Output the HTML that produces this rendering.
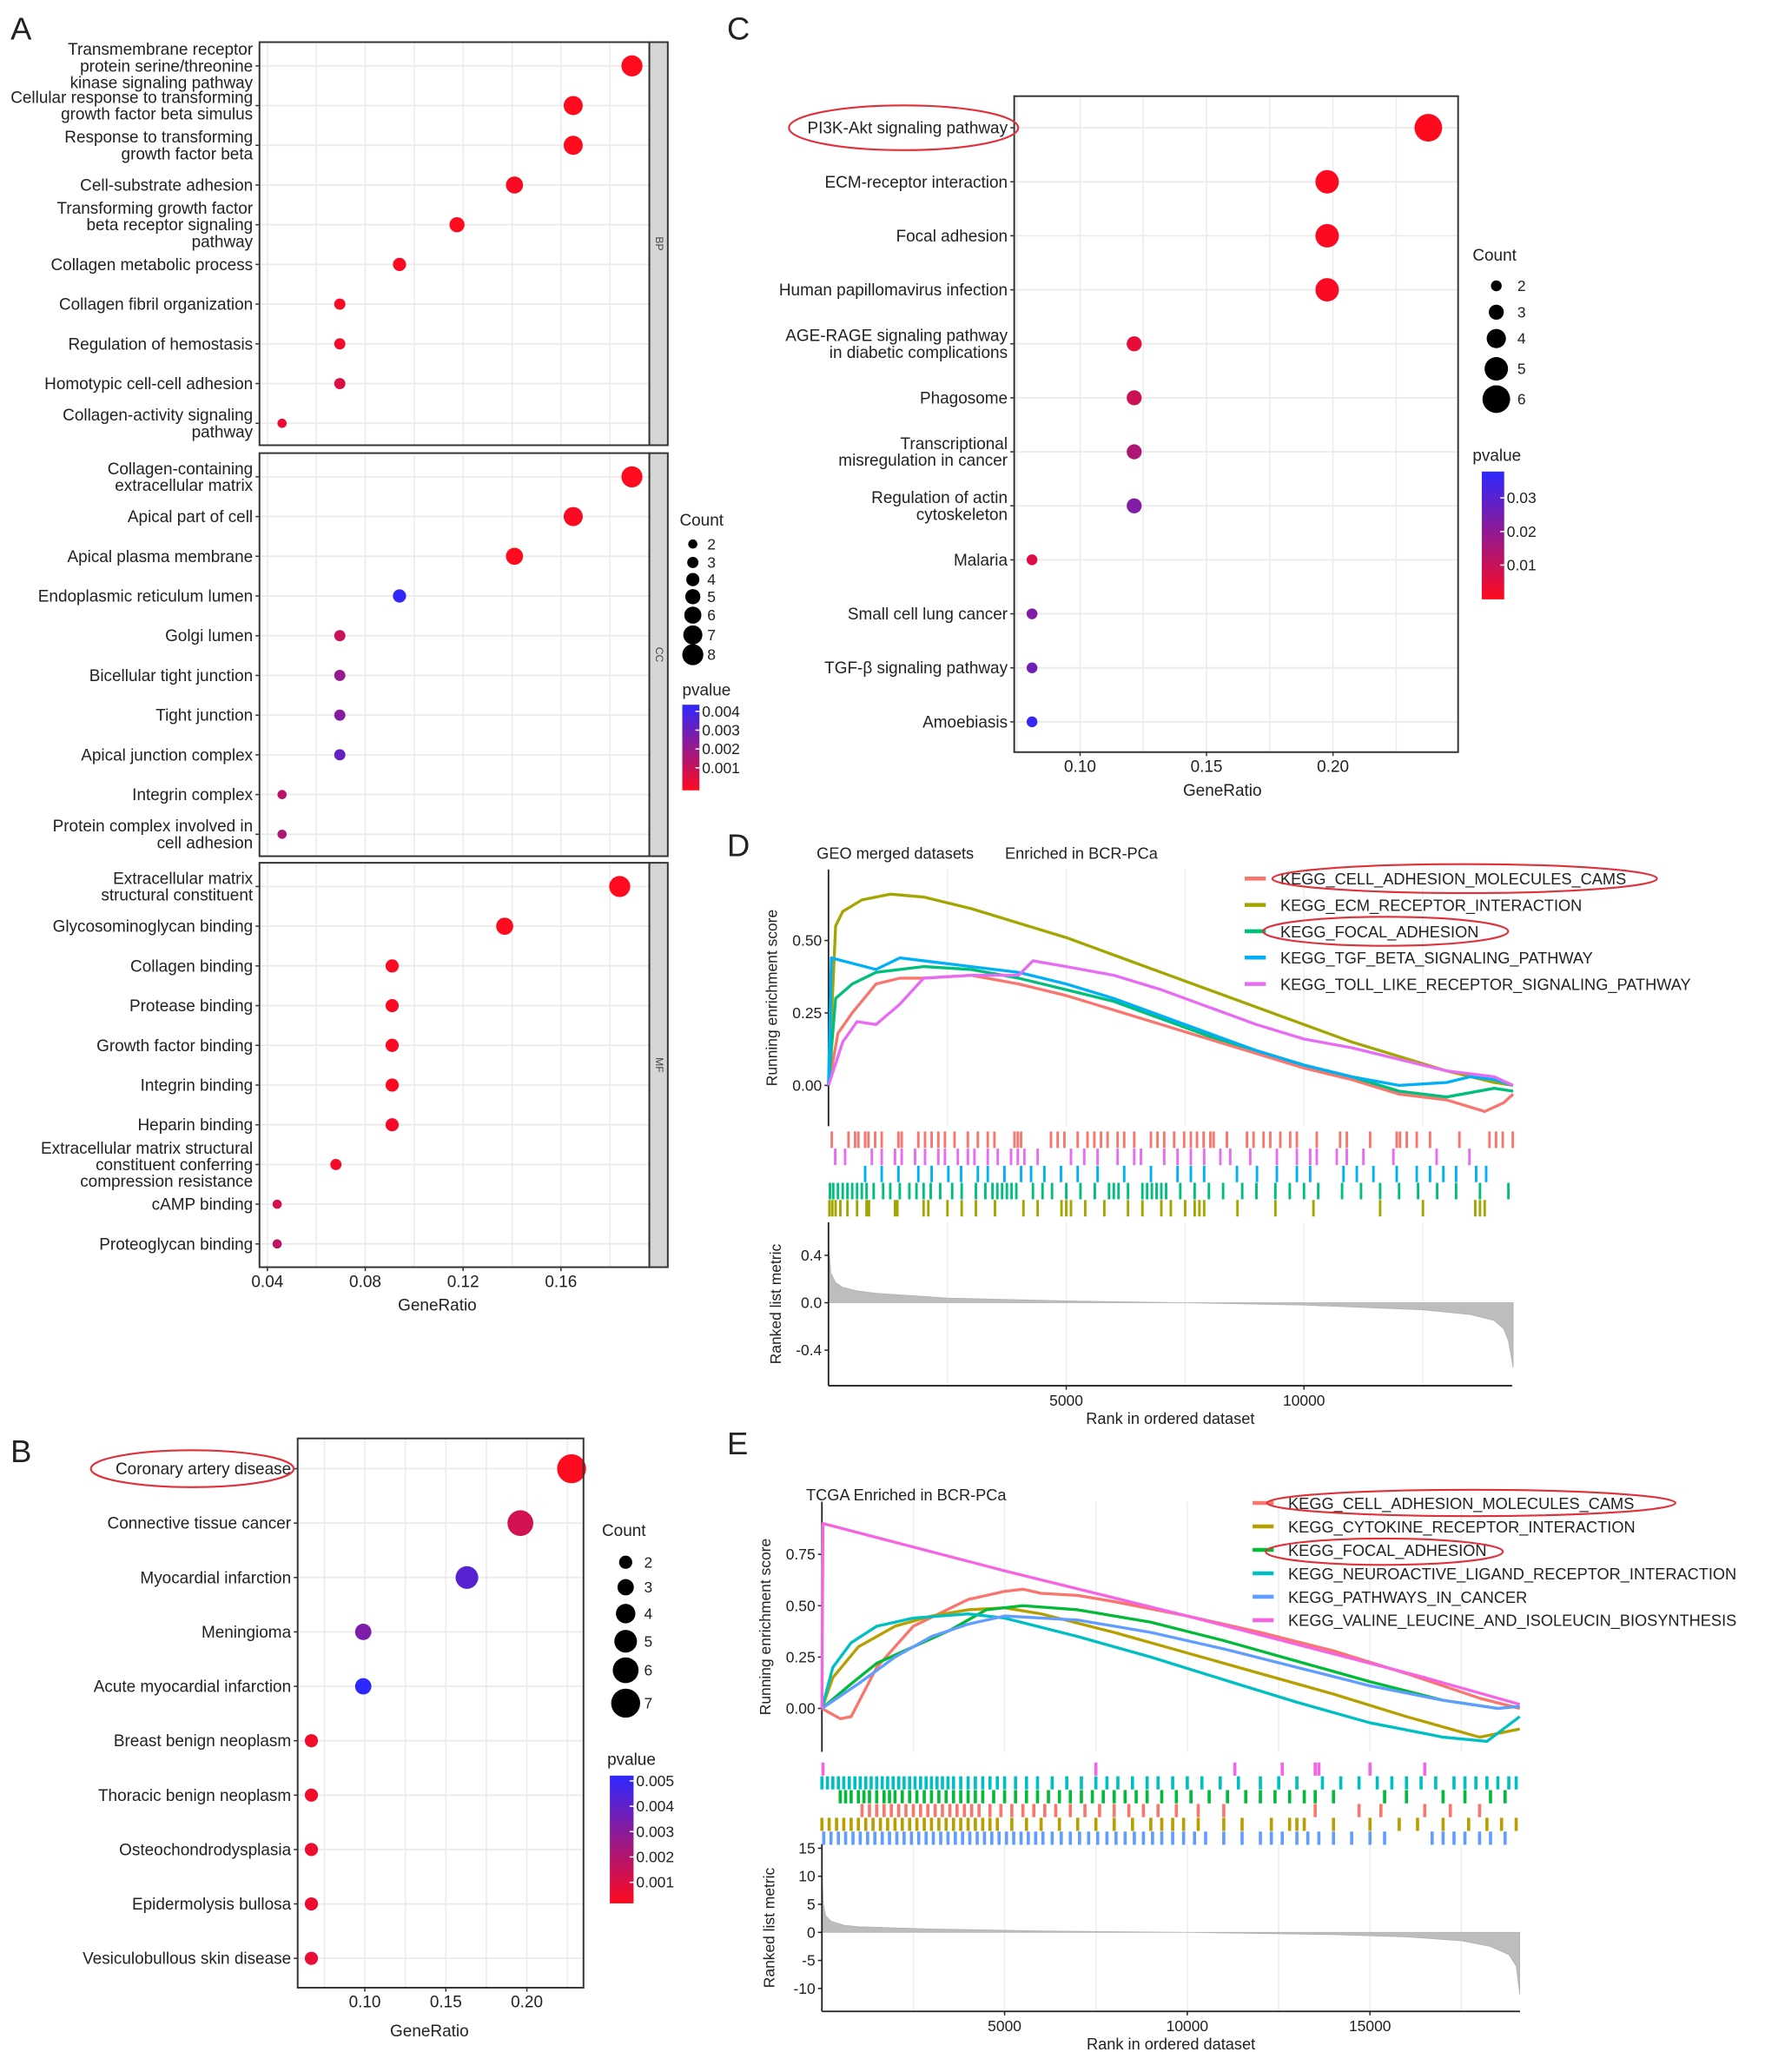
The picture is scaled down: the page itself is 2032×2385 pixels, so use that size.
<!DOCTYPE html>
<html><head><meta charset="utf-8">
<style>
html,body{margin:0;padding:0;background:#fff}
svg{display:block}
text{font-family:"Liberation Sans",sans-serif}
</style></head>
<body>
<svg id="fig" xmlns="http://www.w3.org/2000/svg" width="2032" height="2385" viewBox="0 0 1340 1573" preserveAspectRatio="none"></svg>
<script>
// ===== Panel A data =====
const aBPLabels=[["Transmembrane receptor","protein serine/threonine","kinase signaling pathway"],["Cellular response to transforming","growth factor beta simulus"],["Response to transforming","growth factor beta"],["Cell-substrate adhesion"],["Transforming growth factor","beta receptor signaling","pathway"],["Collagen metabolic process"],["Collagen fibril organization"],["Regulation of hemostasis"],["Homotypic cell-cell adhesion"],["Collagen-activity signaling","pathway"]];
const aBPRatio=[0.189,0.165,0.165,0.141,0.1175,0.094,0.0696,0.0696,0.0696,0.046];
const aBPCount=[8,7,7,6,5,4,3,3,3,2];
const aBPP=[0.0001,0.0001,0.0001,0.0002,0.0001,0.0002,0.0002,0.0003,0.0008,0.0005];
const aCCLabels=[["Collagen-containing","extracellular matrix"],["Apical part of cell"],["Apical plasma membrane"],["Endoplasmic reticulum lumen"],["Golgi lumen"],["Bicellular tight junction"],["Tight junction"],["Apical junction complex"],["Integrin complex"],["Protein complex involved in","cell adhesion"]];
const aCCRatio=[0.189,0.165,0.141,0.094,0.0696,0.0696,0.0696,0.0696,0.046,0.046];
const aCCCount=[8,7,6,4,3,3,3,3,2,2];
const aCCP=[0.0001,0.0002,0.0001,0.0042,0.0012,0.0022,0.0025,0.0032,0.0015,0.0017];
const aMFLabels=[["Extracellular matrix","structural constituent"],["Glycosominoglycan binding"],["Collagen binding"],["Protease binding"],["Growth factor binding"],["Integrin binding"],["Heparin binding"],["Extracellular matrix structural","constituent conferring","compression resistance"],["cAMP binding"],["Proteoglycan binding"]];
const aMFRatio=[0.184,0.137,0.091,0.091,0.091,0.091,0.091,0.068,0.044,0.044];
const aMFCount=[8,6,4,4,4,4,4,3,2,2];
const aMFP=[0.0001,0.0001,0.0002,0.0002,0.0002,0.0002,0.0003,0.0003,0.0009,0.0014];
const aXTicks=[0.04,0.08,0.12,0.16];
const aCountLegend=[2,3,4,5,6,7,8];
const aPLegend=[0.004,0.003,0.002,0.001];
// ===== Panel B data =====
const bLabels=[["Coronary artery disease"],["Connective tissue cancer"],["Myocardial infarction"],["Meningioma"],["Acute myocardial infarction"],["Breast benign neoplasm"],["Thoracic benign neoplasm"],["Osteochondrodysplasia"],["Epidermolysis bullosa"],["Vesiculobullous skin disease"]];
const bRatio=[0.2276,0.196,0.163,0.099,0.099,0.067,0.067,0.067,0.067,0.067];
const bCount=[7,6,5,3,3,2,2,2,2,2];
const bP=[0.0001,0.0013,0.0042,0.0033,0.0052,0.0005,0.0005,0.0006,0.0006,0.0007];
const bXTicks=[0.10,0.15,0.20];
const bCountLegend=[2,3,4,5,6,7];
const bPLegend=[0.005,0.004,0.003,0.002,0.001];
// ===== Panel C data =====
const cLabels=[["PI3K-Akt signaling pathway"],["ECM-receptor interaction"],["Focal adhesion"],["Human papillomavirus infection"],["AGE-RAGE signaling pathway","in diabetic complications"],["Phagosome"],["Transcriptional","misregulation in cancer"],["Regulation of actin","cytoskeleton"],["Malaria"],["Small cell lung cancer"],["TGF-β signaling pathway"],["Amoebiasis"]];
const cRatio=[0.2377,0.1977,0.1977,0.1977,0.1214,0.1214,0.1214,0.1214,0.081,0.081,0.081,0.081];
const cCount=[6,5,5,5,3,3,3,3,2,2,2,2];
const cP=[0.0008,0.001,0.0012,0.0015,0.005,0.01,0.015,0.023,0.007,0.023,0.026,0.036];
const cXTicks=[0.10,0.15,0.20];
const cCountLegend=[2,3,4,5,6];
const cPLegend=[0.03,0.02,0.01];
// ===== Panel D data =====
const dNames=["KEGG_CELL_ADHESION_MOLECULES_CAMS","KEGG_ECM_RECEPTOR_INTERACTION","KEGG_FOCAL_ADHESION","KEGG_TGF_BETA_SIGNALING_PATHWAY","KEGG_TOLL_LIKE_RECEPTOR_SIGNALING_PATHWAY"];
const dColors=["#F8766D","#A3A500","#00BF7D","#00B0F6","#E76BF3"];
const dCamsRank=[0,200,500,1000,1500,2000,3000,4000,5000,6000,7000,8000,9000,10000,11000,12000,13000,13800,14200,14400];
const dCamsES=[0,0.18,0.25,0.35,0.37,0.37,0.38,0.35,0.31,0.26,0.21,0.16,0.11,0.06,0.02,-0.03,-0.05,-0.09,-0.06,-0.03];
const dEcmRank=[0,150,300,700,1300,2000,3000,4000,5000,6000,7000,8000,9000,10000,11000,12000,13000,14000,14400];
const dEcmES=[0,0.55,0.6,0.64,0.66,0.65,0.61,0.56,0.51,0.45,0.39,0.33,0.27,0.21,0.15,0.1,0.05,0.01,0];
const dFocalRank=[0,150,500,1000,2000,3000,4000,5000,6000,7000,8000,9000,10000,11000,12000,13000,14000,14400];
const dFocalES=[0,0.3,0.35,0.39,0.41,0.4,0.37,0.33,0.29,0.23,0.17,0.12,0.07,0.03,-0.02,-0.04,-0.01,-0.02];
const dTgfRank=[0,60,1000,1500,2000,3000,4000,5000,6000,7000,8000,9000,10000,11000,12000,13000,13500,14000,14400];
const dTgfES=[0,0.44,0.4,0.44,0.43,0.41,0.39,0.35,0.3,0.24,0.18,0.12,0.07,0.03,0.0,0.01,0.03,0.02,0];
const dTollRank=[0,300,600,1000,1500,2000,3000,4000,4300,5000,6000,7000,8000,9000,10000,11000,12000,13000,13500,14000,14400];
const dTollES=[0,0.15,0.22,0.21,0.28,0.37,0.38,0.38,0.43,0.41,0.38,0.33,0.27,0.21,0.16,0.13,0.09,0.05,0.04,0.03,0];
const dHitsCams=[70,420,560,630,770,840,980,1120,1470,1540,1890,2030,2170,2310,2450,2650,2930,3140,3350,3490,3910,3980,4050,4680,4820,4960,5240,5450,5590,5730,5870,6080,6220,6430,6780,6920,7060,7270,7480,7620,7750,7890,8030,8100,8380,8800,8940,9150,9290,9500,9710,9850,10270,10760,10900,11390,11950,12020,12160,12370,12650,13270,13900,14040,14180,14390];
const dHitsToll=[140,350,910,1120,1400,1540,1820,2030,2310,2450,2720,2930,3070,3350,3560,3840,3980,4120,4400,5100,5380,5660,6080,6430,6570,7060,7340,7620,7900,8240,8450,8870,9430,9850,10130,10270,10690,10900,11250,11880,12790,13480];
const dHitsTgf=[770,1120,1470,1890,2170,2520,2790,3140,3350,3700,4050,4260,4540,4890,5240,5660,6220,6780,7340,7620,7900,8590,9010,9430,9850,10130,10830,11110,11460,11950,12370,12650,12930,13200,13620,13830];
const dHitsFocal=[30,100,200,300,400,500,600,700,800,950,1150,1300,1500,1700,1850,2000,2150,2350,2600,2800,3100,3300,3450,3550,3650,3750,3850,3950,4300,4500,4700,5000,5300,5600,5900,6000,6100,6300,6600,6700,6800,6900,7000,7100,7400,7700,8000,8300,8700,9000,9400,9700,10000,10300,10800,11200,11600,12000,12400,12800,13200,13700,14300];
const dHitsEcm=[20,80,150,250,400,600,800,850,1400,1450,2000,2100,2500,2800,3100,3500,4100,4400,4900,5000,5100,5400,5800,6300,6600,7000,7200,7500,7700,7800,7900,8600,9400,10200,11600,12500,13600,13700,13800];
const dMetricRank=[0,50,150,300,600,1000,2500,5000,7500,10000,12500,13500,14000,14200,14300,14400];
const dMetricVal=[0.5,0.25,0.17,0.13,0.1,0.08,0.04,0.015,0,-0.02,-0.06,-0.1,-0.15,-0.22,-0.32,-0.55];
const dXTicks=[5000,10000];
const dYTicks=[0,0.25,0.5];
const dMTicks=[0.4,0.0,-0.4];
// ===== Panel E data =====
const eNames=["KEGG_CELL_ADHESION_MOLECULES_CAMS","KEGG_CYTOKINE_RECEPTOR_INTERACTION","KEGG_FOCAL_ADHESION","KEGG_NEUROACTIVE_LIGAND_RECEPTOR_INTERACTION","KEGG_PATHWAYS_IN_CANCER","KEGG_VALINE_LEUCINE_AND_ISOLEUCIN_BIOSYNTHESIS"];
const eColors=["#F8766D","#B79F00","#00BA38","#00BFC4","#619CFF","#F564E3"];
const eCamsRank=[0,500,800,1500,2500,4000,5000,5500,6000,7000,8000,10000,12000,14000,16000,18000,19100];
const eCamsES=[0,-0.05,-0.04,0.2,0.4,0.53,0.57,0.58,0.56,0.55,0.52,0.45,0.37,0.28,0.17,0.05,0.0];
const eCytoRank=[0,300,1000,2000,3000,4000,5000,6000,8000,10000,12000,14000,16000,18000,19100];
const eCytoES=[0,0.15,0.3,0.4,0.45,0.48,0.49,0.46,0.37,0.27,0.17,0.07,-0.04,-0.14,-0.1];
const eFocalRank=[0,800,1500,2500,3500,4500,5500,7000,9000,11000,13000,15000,17000,18500,19100];
const eFocalES=[0,0.12,0.22,0.3,0.38,0.48,0.5,0.48,0.42,0.33,0.23,0.13,0.04,0.0,0.01];
const eNeuroRank=[0,300,800,1500,2500,4000,5000,7000,9000,11000,13000,15000,17000,18200,19100];
const eNeuroES=[0,0.2,0.32,0.4,0.44,0.46,0.44,0.35,0.25,0.14,0.03,-0.07,-0.14,-0.16,-0.04];
const ePathRank=[0,1000,2000,3000,4000,5000,7000,9000,11000,13000,15000,17000,18500,19100];
const ePathES=[0,0.12,0.25,0.35,0.41,0.45,0.43,0.37,0.29,0.2,0.11,0.04,0.0,0.01];
const eValRank=[0,30,5000,10000,15000,16500,19100];
const eValES=[0,0.9,0.67,0.45,0.22,0.15,0.02];
const eHitsVal=[30,7500,11300,12600,13500,13600,15000,16500];
const eHitsNeuro=[0,150,300,450,600,750,900,1050,1200,1350,1500,1650,1800,1950,2100,2250,2400,2550,2700,2850,3000,3150,3300,3450,3600,3800,4000,4200,4400,4600,4800,5000,5300,5600,5900,6300,6700,7100,7500,7800,8100,8500,8900,9200,9600,10000,10400,10900,11400,12000,12500,13000,13700,14200,14700,15200,15600,16000,16400,16800,17300,17600,17900,18200,18500,18800,19000];
const eHitsFocal=[500,650,800,1000,1150,1300,1500,1700,1850,2000,2200,2400,2600,2800,3000,3200,3400,3600,3800,4000,4200,4400,4700,5000,5300,5600,5900,6200,6500,6800,7100,7400,7700,8000,8300,8600,8900,9300,9700,10100,10600,11100,11600,12000,12400,12800,13200,13500,14000,15400,16000,17000,17600,18300,18700];
const eHitsCams=[1100,1300,1500,1700,1900,2100,2300,2500,2700,2900,3100,3300,3500,3700,3900,4100,4300,4600,4900,5200,5500,5800,6100,6400,6800,7200,7600,8000,8400,8800,9200,9700,10300,11000,13500,14700,15300,16500,17200,18000];
const eHitsCyto=[0,200,400,600,800,1000,1200,1400,1600,1800,2000,2200,2400,2600,2800,3000,3200,3400,3600,3800,4000,4200,4400,4600,4800,5200,5600,6000,6500,7000,7500,8000,8500,9000,9300,9600,9900,10300,11000,11500,12300,12800,13000,13200,14000,15000,15800,16300,17000,17700,18200,18600,19000];
const eHitsPath=[50,250,450,650,850,1050,1250,1450,1650,1850,2050,2250,2450,2650,2850,3050,3250,3450,3650,3850,4050,4250,4450,4650,4850,5050,5250,5450,5650,5850,6050,6300,6550,6800,7050,7300,7550,7800,8050,8300,8550,8800,9050,9300,9600,9900,10200,10500,11000,11500,12000,12300,12600,13000,13300,13600,14000,14500,15000,15400,16700,17000,17300,17600,18000,18300,18700];
const eMetricRank=[0,15,40,100,250,600,1000,3000,6000,10000,14000,16000,17500,18300,18800,19000,19100];
const eMetricVal=[14,9,5,3,2,1.3,1,0.6,0.25,0,-0.4,-0.8,-1.5,-2.5,-4,-6,-11];
const eXTicks=[5000,10000,15000];
const eYTicks=[0,0.25,0.5,0.75];
const eMTicks=[15,10,5,0,-5,-10];

// ===== helpers =====
const NS='http://www.w3.org/2000/svg';
const svg=document.getElementById('fig');
function mk(tag,attrs,name,parent){
  const el=document.createElementNS(NS,tag);
  for(const k in attrs) el.setAttribute(k,attrs[k]);
  
  
  (parent||svg).appendChild(el);
  return el;
}
function tx(x,y,s,name,o){
  o=o||{};
  const a={x:x,y:y,'font-size':o.size||12.5,'text-anchor':o.anchor||'start',fill:o.fill||'#222'};
  if(o.rot) a.transform='rotate('+o.rot+' '+x+' '+y+')';
  const el=mk('text',a,name,o.parent);
  el.textContent=s;
  return el;
}
function pcol(p,pmin,pmax){
  let t=(p-pmin)/(pmax-pmin); t=Math.max(0,Math.min(1,t));
  const r=Math.round(255*(1-t)+45*t), g=Math.round(10*(1-t)+40*t), b=Math.round(30*(1-t)+255*t);
  return 'rgb('+r+','+g+','+b+')';
}
function gradient(id,parent){
  const defs=mk('defs',{},'gradient-defs',parent);
  const lg=mk('linearGradient',{id:id,x1:0,y1:0,x2:0,y2:1},'pvalue-gradient',defs);
  mk('stop',{offset:'0','stop-color':'rgb(45,40,255)'},'gradient-stop-high',lg);
  mk('stop',{offset:'0.5','stop-color':'rgb(150,25,140)'},'gradient-stop-mid',lg);
  mk('stop',{offset:'1','stop-color':'rgb(255,10,30)'},'gradient-stop-low',lg);
}
gradient('pgrad');

// ===== dot plot =====
function dotPanel(o){
  const g=mk('g',{},o.name);
  mk('rect',{x:o.x0,y:o.y0,width:o.x1-o.x0,height:o.y1-o.y0,fill:'#fff'},'plot-background',g);
  o.grid.forEach(v=>{const x=o.xs(v); mk('line',{x1:x,x2:x,y1:o.y0,y2:o.y1,stroke:'#ebebeb','stroke-width':1},'grid-x',g);});
  o.labels.forEach((lab,i)=>{
    const y=o.rowY0+i*o.rowStep;
    mk('line',{x1:o.x0,x2:o.x1,y1:y,y2:y,stroke:'#ebebeb','stroke-width':1.2},'grid-y',g);
    mk('line',{x1:o.x0-3,x2:o.x0,y1:y,y2:y,stroke:'#333','stroke-width':1},'y-tick',g);
    const n=lab.length, lh=12.6;
    lab.forEach((s,k)=>{tx(o.x0-5,y+4.3+(k-(n-1)/2)*lh,s,'y-label',{anchor:'end',parent:g});});
  });
  o.labels.forEach((lab,i)=>{
    const y=o.rowY0+i*o.rowStep;
    mk('circle',{cx:o.xs(o.ratio[i]),cy:y,r:o.rf(o.count[i]),fill:pcol(o.p[i],o.pmin,o.pmax)},'dot',g);
  });
  mk('rect',{x:o.x0,y:o.y0,width:o.x1-o.x0,height:o.y1-o.y0,fill:'none',stroke:'#333','stroke-width':1.3},'plot-border',g);
  if(o.strip){
    mk('rect',{x:o.x1,y:o.y0,width:14,height:o.y1-o.y0,fill:'#d6d6d6',stroke:'#333','stroke-width':1.3},'facet-strip',g);
    tx(o.x1+5,(o.y0+o.y1)/2,o.strip,'facet-label',{size:8,anchor:'middle',rot:90,parent:g,fill:'#444'});
  }
  return g;
}
function xAxis(o){
  o.ticks.forEach(v=>{const x=o.xs(v);
    mk('line',{x1:x,x2:x,y1:o.y,y2:o.y+3,stroke:'#333','stroke-width':1},'x-tick');
    tx(x,o.y+15,o.fmt(v),'x-tick-label',{anchor:'middle'});});
  tx(o.tx,o.ty,'GeneRatio','x-axis-title',{anchor:'middle'});
}
function countLegend(o){
  tx(o.x,o.ty,'Count','count-legend-title');
  o.vals.forEach((c,i)=>{
    mk('circle',{cx:o.cx,cy:o.ys[i],r:o.rf(c),fill:'#000'},'count-legend-dot');
    tx(o.cx+o.lx,o.ys[i]+4,String(c),'count-legend-label',{size:11.5});
  });
}
function pLegend(o){
  tx(o.x,o.ty,'pvalue','pvalue-legend-title');
  mk('rect',{x:o.bx,y:o.by0,width:o.bw,height:o.by1-o.by0,fill:'url(#pgrad)'},'pvalue-colorbar');
  o.vals.forEach(v=>{const y=o.ys(v);
    mk('line',{x1:o.bx+o.bw-3,x2:o.bx+o.bw,y1:y,y2:y,stroke:'#fff','stroke-width':1},'colorbar-tick');
    tx(o.bx+o.bw+2,y+4,o.fmt(v),'pvalue-legend-label',{size:11.5});});
}
function ellipse(cx,cy,rx,ry){mk('ellipse',{cx:cx,cy:cy,rx:rx,ry:ry,fill:'none',stroke:'#e0303a','stroke-width':1.4},'highlight-ellipse');}

// ===== Panel A =====
tx(8,30,'A','panel-label-a',{size:24});
const xA=r=>203+(r-0.04)/0.04*74.3;
const aGrid=[0.04,0.06,0.08,0.10,0.12,0.14,0.16,0.18];
const aPanels=[[32,338,aBPLabels,aBPRatio,aBPCount,aBPP,'BP'],[344,650,aCCLabels,aCCRatio,aCCCount,aCCP,'CC'],[655,962,aMFLabels,aMFRatio,aMFCount,aMFP,'MF']];
aPanels.forEach(q=>dotPanel({name:'panel-a-'+q[6].toLowerCase(),x0:197,x1:493,y0:q[0],y1:q[1],xs:xA,grid:aGrid,labels:q[2],ratio:q[3],count:q[4],p:q[5],pmin:0.0001,pmax:0.0043,rowY0:q[0]+18,rowStep:30.15,rf:c=>2+0.75*c,strip:q[6]}));
xAxis({ticks:aXTicks,xs:xA,y:962,fmt:v=>v.toFixed(2),tx:332,ty:995});
countLegend({x:516,ty:399,cx:526,lx:11,vals:aCountLegend,ys:[413,427,440,453,467,482,497],rf:c=>2+0.75*c});
pLegend({x:518,ty:528,bx:518,bw:13,by0:535,by1:600,vals:aPLegend,ys:v=>540+(0.004-v)/0.001*14.3,fmt:v=>v.toFixed(3)});

// ===== Panel B =====
tx(8,1110,'B','panel-label-b',{size:24});
const xB=r=>277+(r-0.10)/0.05*61.5;
dotPanel({name:'panel-b',x0:226,x1:443,y0:1092,y1:1509,xs:xB,grid:[0.075,0.10,0.125,0.15,0.175,0.20,0.225],labels:bLabels,ratio:bRatio,count:bCount,p:bP,pmin:0.0002,pmax:0.0052,rowY0:1115,rowStep:41.3,rf:c=>2.6+1.2*c});
xAxis({ticks:bXTicks,xs:xB,y:1509,fmt:v=>v.toFixed(2),tx:326,ty:1546});
countLegend({x:457,ty:1166,cx:475,lx:14,vals:bCountLegend,ys:[1186,1205,1225,1246,1268,1293],rf:c=>2.6+1.2*c});
pLegend({x:461,ty:1340,bx:463,bw:18,by0:1348,by1:1445,vals:bPLegend,ys:v=>1352+(0.005-v)/0.001*19.25,fmt:v=>v.toFixed(3)});
ellipse(146,1115,77,14);

// ===== Panel C =====
tx(552,30,'C','panel-label-c',{size:24});
const xC=r=>820+(r-0.10)/0.05*96;
dotPanel({name:'panel-c',x0:770,x1:1107,y0:73,y1:571,xs:xC,grid:[0.075,0.10,0.125,0.15,0.175,0.20,0.225],labels:cLabels,ratio:cRatio,count:cCount,p:cP,pmin:0.0007,pmax:0.038,rowY0:97,rowStep:41,rf:c=>0.9+1.6*c});
xAxis({ticks:cXTicks,xs:xC,y:571,fmt:v=>v.toFixed(2),tx:928,ty:604});
countLegend({x:1118,ty:198,cx:1136,lx:16,vals:cCountLegend,ys:[217,237,257,280,303],rf:c=>0.9+1.6*c});
pLegend({x:1118,ty:350,bx:1125,bw:17,by0:358,by1:455,vals:cPLegend,ys:v=>378+(0.03-v)/0.01*25.5,fmt:v=>v.toFixed(2)});
ellipse(686,97,87,17);

// ===== GSEA =====
function pathFrom(rk,vals,xs,ys){return rk.map((r,i)=>(i?'L':'M')+xs(r).toFixed(1)+' '+ys(vals[i]).toFixed(1)).join(' ');}
function gsea(o){
  const g=mk('g',{},o.name);
  o.grid.forEach(r=>{const x=o.xs(r);
    mk('line',{x1:x,x2:x,y1:o.top0,y2:o.top1,stroke:'#eeeeee','stroke-width':1},'grid-x',g);
    mk('line',{x1:x,x2:x,y1:o.bot0,y2:o.bot1,stroke:'#eeeeee','stroke-width':1},'grid-x',g);});
  mk('line',{x1:o.x0,x2:o.x0,y1:o.top0,y2:o.top1,stroke:'#222','stroke-width':1.2},'es-y-axis',g);
  o.yticks.forEach(v=>{const y=o.ys(v);
    mk('line',{x1:o.x0-3,x2:o.x0,y1:y,y2:y,stroke:'#222'},'es-y-tick',g);
    tx(o.x0-5,y+4,v.toFixed(2),'es-y-tick-label',{anchor:'end',size:11.5,parent:g});});
  tx(o.ytx,(o.top0+o.top1)/2,'Running enrichment score','es-y-axis-title',{anchor:'middle',rot:-90,size:11.5,parent:g});
  o.series.forEach((s,i)=>{
    mk('path',{d:pathFrom(s[0],s[1],o.xs,o.ys),fill:'none',stroke:o.colors[i],'stroke-width':2.2,'stroke-linejoin':'round'},'es-curve-'+i,g);});
  o.hits.forEach((h,i)=>{
    const y0=o.hitY0+i*o.hitH, ci=o.hitOrder[i];
    const d=h[0].map(r=>'M'+o.xs(r).toFixed(1)+' '+y0+' v'+(o.hitH-0.5)).join(' ');
    mk('path',{d:d,stroke:o.colors[ci],'stroke-width':o.hitW,fill:'none'},'hit-barcode-'+ci,g);});
  const base=o.ms(0);
  const mp=pathFrom(o.metric[0],o.metric[1],o.xs,o.ms)+' L'+o.xs(o.metric[0][o.metric[0].length-1]).toFixed(1)+' '+base+' L'+o.xs(0)+' '+base+' Z';
  mk('path',{d:mp,fill:'#bdbdbd',stroke:'#b0b0b0','stroke-width':0.5},'ranked-metric-area',g);
  mk('line',{x1:o.x0,x2:o.x0,y1:o.bot0,y2:o.bot1,stroke:'#222','stroke-width':1.2},'metric-y-axis',g);
  mk('line',{x1:o.x0,x2:o.xend,y1:o.bot1,y2:o.bot1,stroke:'#222','stroke-width':1.2},'x-axis',g);
  o.mticks.forEach(v=>{const y=o.ms(v);
    mk('line',{x1:o.x0-3,x2:o.x0,y1:y,y2:y,stroke:'#222'},'metric-y-tick',g);
    tx(o.x0-5,y+4,o.mfmt(v),'metric-y-tick-label',{anchor:'end',size:11.5,parent:g});});
  tx(o.ytx+3,(o.bot0+o.bot1)/2,'Ranked list metric','metric-y-axis-title',{anchor:'middle',rot:-90,size:11.5,parent:g});
  o.xticks.forEach(v=>{const x=o.xs(v);
    mk('line',{x1:x,x2:x,y1:o.bot1,y2:o.bot1+3,stroke:'#222'},'x-tick',g);
    tx(x,o.bot1+15,String(v),'x-tick-label',{anchor:'middle',size:11.5,parent:g});});
  tx((o.x0+o.xend)/2,o.bot1+29,'Rank in ordered dataset','x-axis-title',{anchor:'middle',size:12,parent:g});
  o.names.forEach((n,i)=>{const y=o.legY0+i*o.legStep;
    mk('line',{x1:o.legX,x2:o.legX+16,y1:y,y2:y,stroke:o.colors[i],'stroke-width':3},'legend-swatch',g);
    tx(o.legX+27,y+4.5,n,'legend-entry',{size:12,parent:g});});
}

// Panel D
tx(552,650,'D','panel-label-d',{size:24});
tx(620,652,'GEO merged datasets','panel-d-title',{size:12});
tx(763,652,'Enriched in BCR-PCa','panel-d-subtitle',{size:12});
const xD=r=>629+r*0.0361, yD=v=>824-v*220, mD=v=>989-v*90;
gsea({name:'panel-d',x0:629,xend:1148,xs:xD,ys:yD,ms:mD,top0:660,top1:855,bot0:928,bot1:1052,grid:[2500,5000,7500,10000,12500],
  yticks:dYTicks,mticks:dMTicks,mfmt:v=>v.toFixed(1),xticks:dXTicks,ytx:590,colors:dColors,names:dNames,
  series:[[dCamsRank,dCamsES],[dEcmRank,dEcmES],[dFocalRank,dFocalES],[dTgfRank,dTgfES],[dTollRank,dTollES]],
  hits:[[dHitsCams],[dHitsToll],[dHitsTgf],[dHitsFocal],[dHitsEcm]],hitOrder:[0,4,3,2,1],hitY0:859,hitH:13,hitW:1.9,
  metric:[dMetricRank,dMetricVal],legX:945,legY0:667,legStep:20});
ellipse(1112,667,146,11);
ellipse(1052,707,93,11);

// Panel E
tx(552,1104,'E','panel-label-e',{size:24});
tx(612,1139,'TCGA Enriched in BCR-PCa','panel-e-title',{size:12});
const xE=r=>624+r*0.02774, yE=v=>1297-v*156, mE=v=>1467-v*4.26;
gsea({name:'panel-e',x0:624,xend:1154,xs:xE,ys:yE,ms:mE,top0:1140,top1:1330,bot0:1400,bot1:1527,grid:[2500,5000,7500,10000,12500,15000,17500],
  yticks:eYTicks,mticks:eMTicks,mfmt:v=>String(v),xticks:eXTicks,ytx:585,colors:eColors,names:eNames,
  series:[[eCamsRank,eCamsES],[eCytoRank,eCytoES],[eFocalRank,eFocalES],[eNeuroRank,eNeuroES],[ePathRank,ePathES],[eValRank,eValES]],
  hits:[[eHitsVal],[eHitsNeuro],[eHitsFocal],[eHitsCams],[eHitsCyto],[eHitsPath]],hitOrder:[5,3,2,0,1,4],hitY0:1338,hitH:10.5,hitW:2.4,
  metric:[eMetricRank,eMetricVal],legX:951,legY0:1141,legStep:17.8});
ellipse(1117,1141,155,10);
ellipse(1051,1178,90,10);
</script>
</body></html>
